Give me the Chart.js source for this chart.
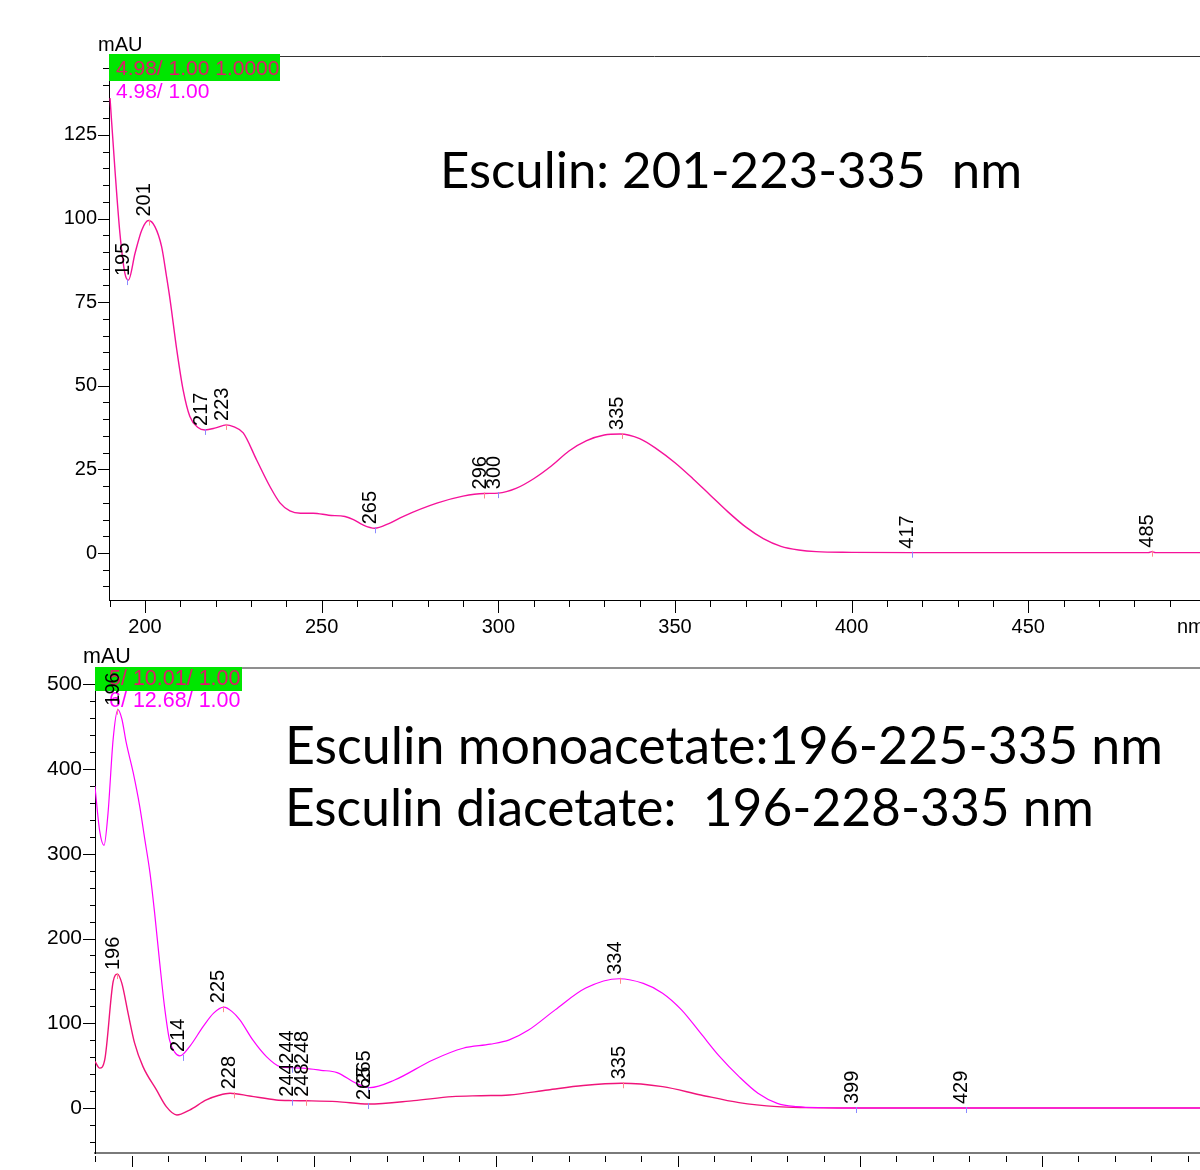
<!DOCTYPE html>
<html><head><meta charset="utf-8">
<script src="https://cdn.jsdelivr.net/npm/chart.js@4.4.1/dist/chart.umd.min.js"></script>
<style>
html,body{margin:0;padding:0;background:#fff;width:1200px;height:1170px;overflow:hidden;position:relative}
canvas{position:absolute;left:0}
#c1{top:0}
#c2{top:640px}
</style></head><body>
<canvas id="c1" width="1200" height="640"></canvas>
<canvas id="c2" width="1200" height="570"></canvas>
<script>
// ---------- DATA ----------
const topWavelength = [190.1,191.5,192.9,194.3,195.3,197.2,199.1,201,202.8,204.7,206.1,207.1,209,210.8,212.7,215,217,220,223,225,227.8,231.6,235.4,238.2,241,244,247.6,252,256.6,259,261.7,265,269,273,282.6,290,296,300,305,310,315,320,325,330,334.5,340,345,350,355,360,365,370,375,380,385,390,400,417,450,484,485,486,498.6];
const topAbsorbance = [136,114.5,95.6,83.7,81.6,89.7,96.6,99.4,97.6,91.6,82.6,75.7,60.7,48.7,40.8,37.5,36.8,37.4,38.3,37.8,35.9,27.8,19.8,15,12.6,11.9,11.9,11.3,10.9,10,8.4,7.4,8.8,10.9,14.9,17,17.8,17.9,19.3,22.2,26,30.5,33.6,35.3,35.6,34.2,31,27,22.3,17.3,12.3,7.8,4.3,2,0.9,0.4,0.2,0.1,0.1,0.1,0.4,0.1,0.1];

const monoWavelength = [189.9,191.2,192.4,193.5,194.9,196.2,197.3,198.5,200.4,202.2,203.6,205,206.3,207.7,209,210.4,211.8,213.2,215.9,219.6,222.5,225.3,227.5,229.7,233.3,237,240.7,244,247,252,256.4,261.7,265.4,272.2,282.7,291,298.5,303.7,309,316.3,324.7,333.9,340.5,345.8,351,356.3,361.5,366.8,372,377.3,382.6,390,400,493.4];
const monoAbsorbance = [380,327,310,348,435,470,459,431,396,356,317,278,230,171,120,80,66,61.5,72.5,96,112,119,114,104,80,60.6,48.8,47.5,47,44.5,41.8,29,24,33,56.7,70.5,75.3,80.4,92,115.8,141.5,152.5,147,135.5,115.8,88,60.6,37,17.4,5.5,1.6,0.3,0,0];

const diWavelength = [189.9,191.2,192.6,194.9,196.1,197.3,199,200.8,203.1,206.8,209.5,212.4,215.9,220.5,224,227,232.4,239.7,244,248,256.4,265,277.5,288,296,303.7,314.3,324,334.5,345.8,356.3,366.8,377.3,385,395,493.4];
const diAbsorbance = [55,47,57,149,158,147,112,76.5,48.8,21.3,1.6,-8.3,-2.4,9.5,15,17.4,14.2,9.5,8.7,8.5,7.5,4.7,8.7,13.4,14.5,15.4,21.3,26.5,29.2,25.2,15.4,6.3,1.6,0.5,0,0];

const topPeakNm   = [195,201,217,223,265,296,300,335,417,485];
const topPeakVal  = [81.6,99.4,36.8,38.3,7.4,17.8,17.9,35.6,0.1,0.4];
const topPeakKind = ['min','max','min','max','min','max','min','max','min','max'];

const monoPeakNm   = [196,214,225,244,248,265,334];
const monoPeakVal  = [470,61.5,119,47.5,47,24,152.5];
const monoPeakKind = ['max','min','max','min','max','min','max'];

const diPeakNm   = [196,228,244,248,265,335,399,429];
const diPeakVal  = [158,17.4,8.7,8.5,4.7,29.2,0,0];
const diPeakKind = ['max','max','min','max','min','max','min','min'];

const topXTickLabels = [200,250,300,350,400,450];
const topYTickLabels = [0,25,50,75,100,125];
const bottomYTickLabels = [0,100,200,300,400,500];

const topTitle = 'Esculin: 201-223-335  nm';
const monoTitle = 'Esculin monoacetate:196-225-335 nm';
const diTitle = 'Esculin diacetate:  196-228-335 nm';

// ---------- HELPERS ----------
const FONT = '"Liberation Sans", Arial, sans-serif';
const TITLE_FONT = 'Lato, "Open Sans", sans-serif';
const pts = (xs, ys) => xs.map((x, i) => ({x, y: ys[i]}));

function drawPeakLabels(chart, nms, vals, kinds, size) {
  const ctx = chart.ctx, xs = chart.scales.x, ys = chart.scales.y;
  ctx.save();
  nms.forEach((nm, i) => {
    const px = xs.getPixelForValue(nm), py = ys.getPixelForValue(vals[i]);
    ctx.strokeStyle = kinds[i] === 'max' ? '#ff8a8a' : '#8a8aff';
    ctx.lineWidth = 1;
    ctx.beginPath();
    ctx.moveTo(Math.round(px) + 0.5, py - 1);
    ctx.lineTo(Math.round(px) + 0.5, py + 5);
    ctx.stroke();
    ctx.save();
    ctx.translate(px + 1.5, py - 4);
    ctx.rotate(-Math.PI / 2);
    ctx.font = size + 'px ' + FONT;
    ctx.fillStyle = '#000';
    ctx.textAlign = 'left';
    ctx.textBaseline = 'alphabetic';
    ctx.fillText(String(nm), 0, 0);
    ctx.restore();
  });
  ctx.restore();
}

function fitText(ctx, text, x, baseline, width) {
  ctx.font = '100px ' + TITLE_FONT;
  const w = ctx.measureText(text).width;
  ctx.font = (100 * width / w).toFixed(2) + 'px ' + TITLE_FONT;
  ctx.fillStyle = '#000';
  ctx.textAlign = 'left';
  ctx.textBaseline = 'alphabetic';
  ctx.fillText(text, x, baseline);
}

function drawTicks(chart, c) {
  const ctx = chart.ctx, a = chart.chartArea, x = chart.scales.x, y = chart.scales.y;
  ctx.save();
  ctx.strokeStyle = '#000';
  ctx.lineWidth = 1;
  ctx.beginPath();
  for (let v = c.xFrom; v <= c.xTo + 1e-6; v += c.xStep) {
    const px = Math.round(x.getPixelForValue(v)) + 0.5;
    const len = (Math.round(v) % c.xMajor === 0) ? c.xMajorLen : c.xMinorLen;
    ctx.moveTo(px, a.bottom + c.xGap);
    ctx.lineTo(px, a.bottom + c.xGap + len);
  }
  for (let v = c.yFrom; v <= c.yTo + 1e-6; v += c.yStep) {
    const py = Math.round(y.getPixelForValue(v)) + 0.5;
    const len = (Math.round(v) % c.yMajor === 0) ? c.yMajorLen : c.yMinorLen;
    ctx.moveTo(a.left - len, py);
    ctx.lineTo(a.left, py);
  }
  ctx.stroke();
  ctx.restore();
}

// ---------- TOP CHART ----------
const topDecor = {
  id: 'topDecor',
  afterDraw(chart) {
    const ctx = chart.ctx, a = chart.chartArea;
    drawTicks(chart, {xFrom:190, xTo:490, xStep:10, xMajor:50, xMajorLen:13, xMinorLen:7, xGap:0,
                      yFrom:-10, yTo:145, yStep:5, yMajor:25, yMajorLen:11, yMinorLen:6});
    ctx.save();
    ctx.strokeStyle = '#333'; ctx.lineWidth = 1;
    ctx.beginPath(); ctx.moveTo(a.left, a.top - 0.5); ctx.lineTo(a.right, a.top - 0.5); ctx.stroke();
    ctx.fillStyle = '#00e600';
    ctx.fillRect(a.left, a.top - 3, 171, 27);
    ctx.font = '21px ' + FONT;
    ctx.textBaseline = 'alphabetic'; ctx.textAlign = 'left';
    ctx.fillStyle = '#e0186a';
    ctx.fillText('4.98/ 1.00 1.0000', 116, 75);
    ctx.fillStyle = '#ff00ff';
    ctx.fillText('4.98/ 1.00', 116, 98);
    ctx.fillStyle = '#000';
    ctx.font = '20px ' + FONT;
    ctx.fillText('mAU', 98, 51);
    ctx.textBaseline = 'middle';
    ctx.fillText('nm', 1177, 627);
    ctx.restore();
    drawPeakLabels(chart, topPeakNm, topPeakVal, topPeakKind, 20);
    ctx.save();
    fitText(ctx, topTitle, 440, 188, 582);
    ctx.restore();
  }
};

new Chart(document.getElementById('c1'), {
  type: 'line',
  data: { datasets: [{
    data: pts(topWavelength, topAbsorbance),
    borderColor: '#f5129a', borderWidth: 1.4, pointRadius: 0,
    cubicInterpolationMode: 'monotone', fill: false
  }]},
  options: {
    responsive: false, animation: false, devicePixelRatio: 1,
    layout: { padding: { left: 0, right: 0, top: 57, bottom: 0 } },
    plugins: { legend: { display: false }, tooltip: { enabled: false } },
    scales: {
      x: {
        type: 'linear', min: 189.81, max: 498.6,
        afterFit: s => { s.height = 40; },
        afterBuildTicks: s => { s.ticks = topXTickLabels.map(v => ({value: v})); },
        grid: { display: true, drawOnChartArea: false, drawTicks: false },
        border: { display: true, color: '#000', width: 1 },
        ticks: { padding: 15, color: '#000', font: { family: FONT, size: 20 }, maxRotation: 0, autoSkip: false }
      },
      y: {
        type: 'linear', min: -14.05, max: 148.3,
        afterFit: s => { s.width = 109; },
        afterBuildTicks: s => { s.ticks = topYTickLabels.map(v => ({value: v})); },
        grid: { display: true, drawOnChartArea: false, drawTicks: false },
        border: { display: true, color: '#000', width: 1 },
        ticks: { padding: 12, color: '#000', font: { family: FONT, size: 20 }, autoSkip: false }
      }
    }
  },
  plugins: [topDecor]
});

// ---------- BOTTOM CHART ----------
const bottomDecor = {
  id: 'bottomDecor',
  afterDraw(chart) {
    const ctx = chart.ctx, a = chart.chartArea;
    drawTicks(chart, {xFrom:190, xTo:490, xStep:10, xMajor:50, xMajorLen:11, xMinorLen:6, xGap:3,
                      yFrom:-40, yTo:500, yStep:20, yMajor:100, yMajorLen:12, yMinorLen:5});
    ctx.save();
    ctx.strokeStyle = '#6a6a6a'; ctx.lineWidth = 1.5;
    ctx.beginPath(); ctx.moveTo(a.left, a.top); ctx.lineTo(a.right, a.top); ctx.stroke();
    ctx.fillStyle = '#00e600';
    ctx.fillRect(a.left, a.top - 1, 147, 24);
    ctx.font = '21.5px ' + FONT;
    ctx.textBaseline = 'alphabetic'; ctx.textAlign = 'left';
    ctx.fillStyle = '#e0186a';
    ctx.fillText('5/ 10.01/ 1.00', 109, 45);
    ctx.fillStyle = '#ff00ff';
    ctx.fillText('6/ 12.68/ 1.00', 109, 66.5);
    ctx.fillStyle = '#000';
    ctx.font = '21.5px ' + FONT;
    ctx.fillText('mAU', 83, 23);
    ctx.restore();
    drawPeakLabels(chart, monoPeakNm, monoPeakVal, monoPeakKind, 20);
    drawPeakLabels(chart, diPeakNm, diPeakVal, diPeakKind, 20);
    ctx.save();
    fitText(ctx, monoTitle, 285, 124, 878);
    fitText(ctx, diTitle, 285, 186, 809);
    ctx.restore();
  }
};

new Chart(document.getElementById('c2'), {
  type: 'line',
  data: { datasets: [
    { data: pts(monoWavelength, monoAbsorbance), borderColor: '#ff00ff', borderWidth: 1.2, pointRadius: 0,
      cubicInterpolationMode: 'monotone', fill: false },
    { data: pts(diWavelength, diAbsorbance), borderColor: '#f0147a', borderWidth: 1.4, pointRadius: 0,
      cubicInterpolationMode: 'monotone', fill: false }
  ]},
  options: {
    responsive: false, animation: false, devicePixelRatio: 1,
    layout: { padding: { left: 0, right: 0, top: 28, bottom: 0 } },
    plugins: { legend: { display: false }, tooltip: { enabled: false } },
    scales: {
      x: {
        type: 'linear', min: 189.92, max: 493.4,
        afterFit: s => { s.height = 57; },
        grid: { display: true, drawOnChartArea: false, drawTicks: false },
        border: { display: true, color: '#7a7a7a', width: 2 },
        ticks: { display: false }
      },
      y: {
        type: 'linear', min: -53.1, max: 519.2,
        afterFit: s => { s.width = 95; },
        afterBuildTicks: s => { s.ticks = bottomYTickLabels.map(v => ({value: v})); },
        grid: { display: true, drawOnChartArea: false, drawTicks: false },
        border: { display: true, color: '#000', width: 1 },
        ticks: { padding: 13, color: '#000', font: { family: FONT, size: 21 }, autoSkip: false }
      }
    }
  },
  plugins: [bottomDecor]
});
</script>
</body></html>
